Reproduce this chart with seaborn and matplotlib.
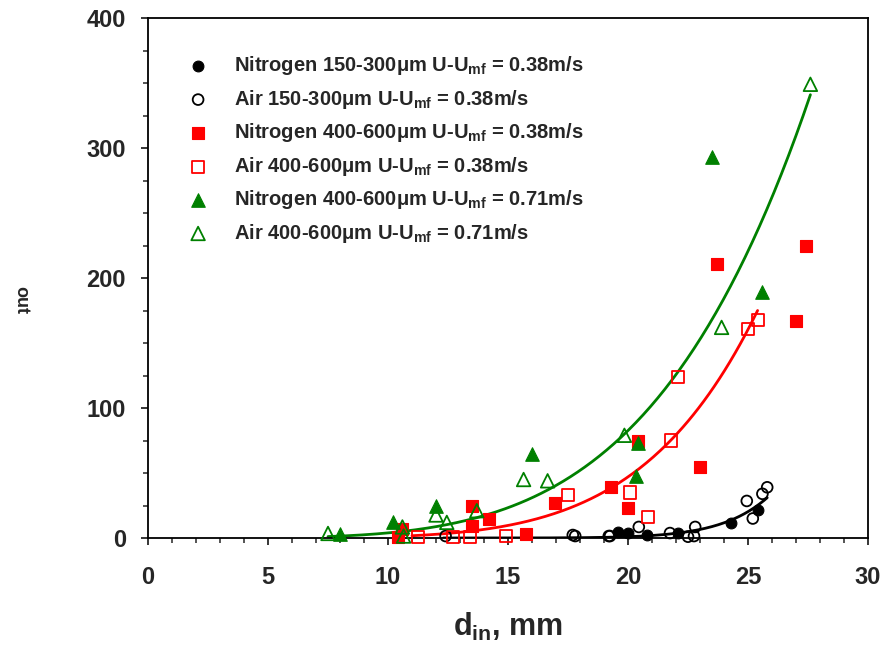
import matplotlib
matplotlib.use("Agg")
import matplotlib.pyplot as plt
from matplotlib.ticker import MultipleLocator
import numpy as np
import seaborn as sns

# Nitrogen / Air, two particle size ranges, two excess velocities
n150_x = [19.6, 20.0, 20.8, 22.1, 24.3, 25.4]
n150_y = [4.6, 4.2, 2.3, 4.0, 11.5, 21.5]

a150_x = [12.4, 17.7, 17.8, 19.2, 19.25, 20.45, 21.75, 22.5, 22.75, 22.8, 24.95, 25.2, 25.6, 25.8]
a150_y = [1.5, 2.3, 1.5, 1.5, 1.5, 8.5, 3.8, 1.0, 1.5, 8.5, 28.5, 15.0, 34.0, 39.0]

n400_38_x = [10.4, 10.6, 13.5, 13.5, 14.2, 15.75, 16.95, 19.3, 20.0, 20.4, 23.0, 23.7, 27.0, 27.4]
n400_38_y = [1.0, 7.0, 25.0, 9.0, 15.0, 3.0, 27.0, 39.0, 23.0, 75.0, 55.0, 211.0, 167.0, 225.0]

a400_38_x = [11.25, 12.7, 13.4, 14.9, 17.5, 20.1, 20.85, 21.8, 22.1, 25.0, 25.4]
a400_38_y = [1.0, 1.0, 1.0, 1.5, 33.0, 35.0, 16.0, 75.0, 124.0, 161.0, 168.0]

n400_71_x = [8.0, 10.2, 12.0, 16.0, 20.35, 20.4, 23.5, 25.6]
n400_71_y = [3.0, 12.0, 25.0, 64.5, 48.0, 73.0, 293.0, 189.0]

a400_71_x = [7.5, 10.6, 10.65, 12.0, 12.45, 13.7, 15.65, 16.65, 19.85, 23.9, 27.6]
a400_71_y = [3.5, 8.5, 1.5, 17.7, 12.0, 21.0, 45.0, 44.0, 79.0, 162.0, 349.0]

labels = [
    r"Nitrogen 150-300μm U-U$_{\mathbf{mf}}$ = 0.38m/s",
    r"Air 150-300μm U-U$_{\mathbf{mf}}$ = 0.38m/s",
    r"Nitrogen 400-600μm U-U$_{\mathbf{mf}}$ = 0.38m/s",
    r"Air 400-600μm U-U$_{\mathbf{mf}}$ = 0.38m/s",
    r"Nitrogen 400-600μm U-U$_{\mathbf{mf}}$ = 0.71m/s",
    r"Air 400-600μm U-U$_{\mathbf{mf}}$ = 0.71m/s",
]

# power-law trend lines: y = y_end * (x / x_end) ** n
black_fit = dict(x0=12.3, x_end=25.8, y_end=31.0, n=13.5)
red_fit = dict(x0=11.0, x_end=25.4, y_end=175.0, n=5.5)
green_fit = dict(x0=7.5, x_end=27.6, y_end=341.0, n=4.4)

sns.set_style("ticks")
plt.rcParams["font.family"] = ["Liberation Sans", "DejaVu Sans"]
plt.rcParams["font.weight"] = "bold"
plt.rcParams["mathtext.fontset"] = "custom"
plt.rcParams["mathtext.rm"] = "Liberation Sans:bold"
plt.rcParams["mathtext.bf"] = "Liberation Sans:bold"
plt.rcParams["mathtext.it"] = "Liberation Sans:bold"

fig = plt.figure(figsize=(8.87, 6.55), dpi=100)
ax = fig.add_axes([148 / 887, 117 / 655, 720 / 887, 520 / 655])

GREEN = "#008000"
RED = "#ff0000"

for fit, c in [(black_fit, "black"), (red_fit, RED), (green_fit, GREEN)]:
    xs = np.linspace(fit["x0"], fit["x_end"], 200)
    ys = fit["y_end"] * (xs / fit["x_end"]) ** fit["n"]
    sns.lineplot(x=xs, y=ys, color=c, linewidth=2, ax=ax, zorder=2)

series = [
    (n150_x, n150_y, "o", "black", True, 60),
    (a150_x, a150_y, "o", "black", False, 60),
    (n400_38_x, n400_38_y, "s", RED, True, 75),
    (a400_38_x, a400_38_y, "s", RED, False, 75),
    (n400_71_x, n400_71_y, "^", GREEN, True, 95),
    (a400_71_x, a400_71_y, "^", GREEN, False, 95),
]
handles = []
for (xv, yv, m, c, filled, s), lab in zip(series, labels):
    if filled:
        sns.scatterplot(x=xv, y=yv, marker=m, s=s, color=c, edgecolor=c,
                        linewidth=0.8, ax=ax, zorder=3, clip_on=False)
    else:
        sns.scatterplot(x=xv, y=yv, marker=m, s=s, facecolor="none", edgecolor=c,
                        linewidth=1.3, ax=ax, zorder=3, clip_on=False)
    handles.append(ax.collections[-1])

ax.legend(handles, labels, loc="upper left", bbox_to_anchor=(0.0556, 0.93),
          frameon=False, borderaxespad=0, borderpad=0, handlelength=1.0,
          handletextpad=1.3, labelspacing=0.52, prop={"size": 14.5, "weight": "bold"})

ax.set_xlim(0, 30)
ax.set_ylim(0, 400)
ax.xaxis.set_major_locator(MultipleLocator(5))
ax.xaxis.set_minor_locator(MultipleLocator(1))
ax.yaxis.set_major_locator(MultipleLocator(100))
ax.yaxis.set_minor_locator(MultipleLocator(25))
ax.tick_params(which="major", length=5, width=1.3, direction="out", labelsize=17,
               top=False, right=False)
ax.tick_params(which="minor", length=3.5, width=1.1, direction="out",
               top=False, right=False)
ax.tick_params(axis="x", which="major", pad=15)
ax.tick_params(axis="y", which="major", pad=11)
for lab in ax.get_xticklabels() + ax.get_yticklabels():
    lab.set_fontweight("bold")
for sp in ["left", "bottom", "top", "right"]:
    ax.spines[sp].set_linewidth(1.3)
    ax.spines[sp].set_color("black")

ax.set_xlabel(r"d$_{\mathbf{in}}$, mm", fontsize=22, fontweight="bold", labelpad=16)
ax.set_ylabel("")
fig.text(21 / 887, 1 - 300 / 655, "out", rotation=270, fontsize=13, fontweight="bold",
         ha="center", va="center")

fig.savefig("out.png", dpi=100)
